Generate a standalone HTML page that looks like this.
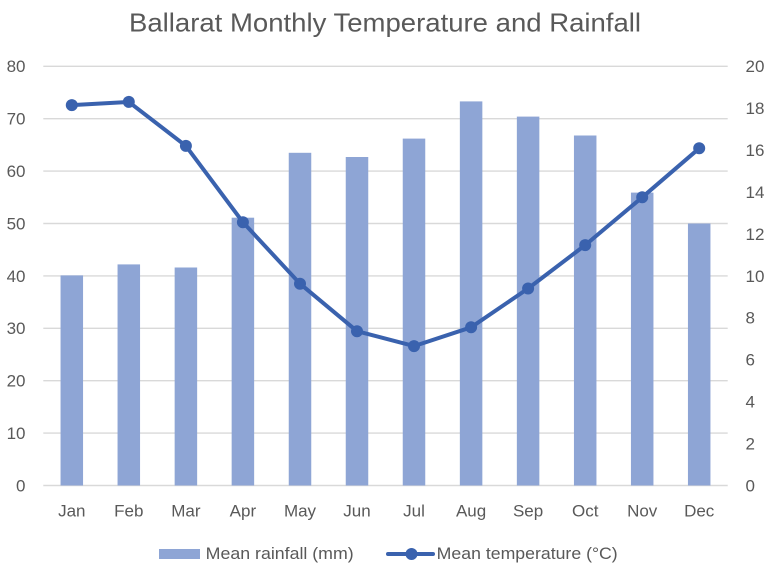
<!DOCTYPE html>
<html>
<head>
<meta charset="utf-8">
<style>
html,body{margin:0;padding:0;background:#fff;}
svg{display:block;}
text{font-family:"Liberation Sans",sans-serif;fill:#595959;}
</style>
</head>
<body>
<svg width="770" height="574" viewBox="0 0 770 574" xmlns="http://www.w3.org/2000/svg">
<rect width="770" height="574" fill="#fff"/>
<text x="385" y="31.7" font-size="26" text-anchor="middle" textLength="512" lengthAdjust="spacingAndGlyphs">Ballarat Monthly Temperature and Rainfall</text>

<g stroke="#D9D9D9" stroke-width="1.4">
<line x1="43.3" x2="727.7" y1="66.3" y2="66.3"/>
<line x1="43.3" x2="727.7" y1="118.7" y2="118.7"/>
<line x1="43.3" x2="727.7" y1="171.1" y2="171.1"/>
<line x1="43.3" x2="727.7" y1="223.5" y2="223.5"/>
<line x1="43.3" x2="727.7" y1="275.9" y2="275.9"/>
<line x1="43.3" x2="727.7" y1="328.3" y2="328.3"/>
<line x1="43.3" x2="727.7" y1="380.7" y2="380.7"/>
<line x1="43.3" x2="727.7" y1="433.1" y2="433.1"/>
<line x1="43.3" x2="727.7" y1="485.5" y2="485.5"/>
</g>

<g fill="#8EA5D5">
<rect x="60.55" y="275.4" width="22.5" height="210.1"/>
<rect x="117.55" y="264.4" width="22.5" height="221.1"/>
<rect x="174.65" y="267.5" width="22.5" height="218.0"/>
<rect x="231.65" y="217.7" width="22.5" height="267.8"/>
<rect x="288.75" y="152.8" width="22.5" height="332.7"/>
<rect x="345.75" y="157.0" width="22.5" height="328.5"/>
<rect x="402.75" y="138.6" width="22.5" height="346.9"/>
<rect x="459.85" y="101.4" width="22.5" height="384.1"/>
<rect x="516.85" y="116.6" width="22.5" height="368.9"/>
<rect x="573.95" y="135.5" width="22.5" height="350.0"/>
<rect x="630.95" y="192.6" width="22.5" height="292.9"/>
<rect x="687.95" y="223.5" width="22.5" height="262.0"/>
</g>

<polyline fill="none" stroke="#3A62AE" stroke-width="4" stroke-linejoin="round" stroke-linecap="round"
points="71.8,105.1 128.8,101.9 185.9,145.9 242.9,222.2 300.0,283.7 357.0,331.2 414.0,346.1 471.1,327.3 528.1,288.5 585.2,245.1 642.2,197.3 699.2,148.3"/>
<g fill="#3A62AE">
<circle cx="71.8" cy="105.1" r="6"/>
<circle cx="128.8" cy="101.9" r="6"/>
<circle cx="185.9" cy="145.9" r="6"/>
<circle cx="242.9" cy="222.2" r="6"/>
<circle cx="300.0" cy="283.7" r="6"/>
<circle cx="357.0" cy="331.2" r="6"/>
<circle cx="414.0" cy="346.1" r="6"/>
<circle cx="471.1" cy="327.3" r="6"/>
<circle cx="528.1" cy="288.5" r="6"/>
<circle cx="585.2" cy="245.1" r="6"/>
<circle cx="642.2" cy="197.3" r="6"/>
<circle cx="699.2" cy="148.3" r="6"/>
</g>

<g font-size="17" text-anchor="end">
<text x="25.5" y="72.2">80</text>
<text x="25.5" y="124.6">70</text>
<text x="25.5" y="177.0">60</text>
<text x="25.5" y="229.4">50</text>
<text x="25.5" y="281.8">40</text>
<text x="25.5" y="334.2">30</text>
<text x="25.5" y="386.6">20</text>
<text x="25.5" y="439.0">10</text>
<text x="25.5" y="491.4">0</text>
</g>
<g font-size="17" text-anchor="start">
<text x="745.5" y="72.2">20</text>
<text x="745.5" y="114.1">18</text>
<text x="745.5" y="156.0">16</text>
<text x="745.5" y="198.0">14</text>
<text x="745.5" y="239.9">12</text>
<text x="745.5" y="281.8">10</text>
<text x="745.5" y="323.7">8</text>
<text x="745.5" y="365.6">6</text>
<text x="745.5" y="407.6">4</text>
<text x="745.5" y="449.5">2</text>
<text x="745.5" y="491.4">0</text>
</g>

<g font-size="17" text-anchor="middle">
<text x="71.8" y="516.3">Jan</text>
<text x="128.8" y="516.3">Feb</text>
<text x="185.9" y="516.3">Mar</text>
<text x="242.9" y="516.3">Apr</text>
<text x="300.0" y="516.3">May</text>
<text x="357.0" y="516.3">Jun</text>
<text x="414.0" y="516.3">Jul</text>
<text x="471.1" y="516.3">Aug</text>
<text x="528.1" y="516.3">Sep</text>
<text x="585.2" y="516.3">Oct</text>
<text x="642.2" y="516.3">Nov</text>
<text x="699.2" y="516.3">Dec</text>
</g>

<rect x="159" y="549" width="41" height="10" fill="#8EA5D5"/>
<text x="205.7" y="559.2" font-size="17" textLength="148" lengthAdjust="spacingAndGlyphs">Mean rainfall (mm)</text>
<line x1="388" y1="554" x2="433" y2="554" stroke="#3A62AE" stroke-width="4" stroke-linecap="round"/>
<circle cx="411.5" cy="554" r="6" fill="#3A62AE"/>
<text x="436.7" y="559.2" font-size="17" textLength="181" lengthAdjust="spacingAndGlyphs">Mean temperature (°C)</text>
</svg>
</body>
</html>
